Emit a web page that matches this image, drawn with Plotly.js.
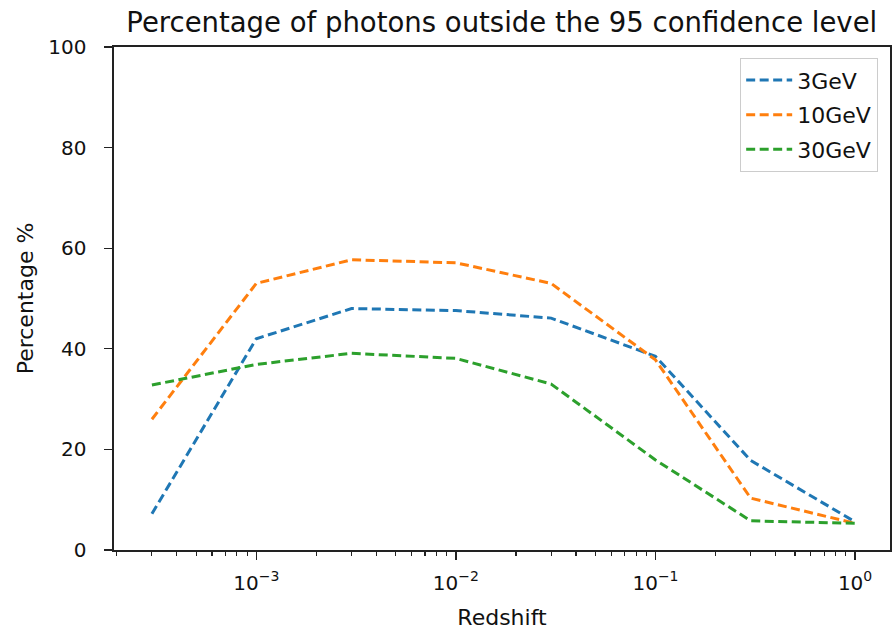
<!DOCTYPE html>
<html>
<head>
<meta charset="utf-8">
<script src="https://cdn.plot.ly/plotly-3.0.1.min.js"></script>
<style>html,body{margin:0;padding:0;background:#fff}#chart{width:892px;height:631px}</style>
</head>
<body>
<div id="chart"></div>
<script>
const redshift = [3e-4, 1e-3, 3e-3, 1e-2, 3e-2, 1e-1, 3e-1, 1];
const pct3GeV  = [7.2, 42.0, 48.0, 47.6, 46.1, 38.5, 17.8, 5.6];
const pct10GeV = [26.0, 53.0, 57.7, 57.1, 53.0, 37.8, 10.3, 5.3];
const pct30GeV = [32.8, 36.9, 39.1, 38.1, 33.0, 17.9, 5.8, 5.3];
const seriesNames = ["3GeV", "10GeV", "30GeV"];
const colors = ["#1f77b4", "#ff7f0e", "#2ca02c"];
const xTickVals = [1e-3, 1e-2, 1e-1, 1];
const xTickText = ["10<sup>−3</sup>", "10<sup>−2</sup>", "10<sup>−1</sup>", "10<sup>0</sup>"];
const yTickVals = [0, 20, 40, 60, 80, 100];

// minor log ticks: 2..9 within each decade
const minorVals = [];
for (let e = -4; e <= 0; e++) {
  for (let m = 2; m <= 9; m++) minorVals.push(m * Math.pow(10, e));
}

const ys = [pct3GeV, pct10GeV, pct30GeV];
const traces = ys.map((y, i) => ({
  x: redshift, y: y, name: seriesNames[i], legendgroup: "g" + i,
  type: "scatter", mode: "lines",
  line: {color: colors[i], width: 3, dash: "9px,4.5px"}
}));

const font = {family: "DejaVu Sans", color: "#111"};
const f = s => Object.assign({size: s}, font);
const layout = {
  width: 892, height: 631,
  margin: {l: 114, r: 2, t: 47, b: 81},
  paper_bgcolor: "#fff", plot_bgcolor: "#fff",
  font: f(20),
  title: {text: "Percentage of photons outside the 95 confidence level", font: f(27.5), x: 0.5625, xanchor: "center", y: 0.980, yanchor: "top"},
  showlegend: true,
  legend: {x: 0.9845, y: 0.978, xanchor: "right", yanchor: "top", bordercolor: "#cccccc", borderwidth: 1.2, bgcolor: "#fff", font: f(22), traceorder: "grouped", tracegroupgap: 3, itemwidth: 46},
  xaxis: {
    type: "log", range: [Math.log10(3e-4) - 0.19, 0.175],
    tickmode: "array", tickvals: xTickVals, ticktext: xTickText,
    ticks: "outside", ticklen: 8, tickwidth: 1.4, tickcolor: "#222",
    ticklabelstandoff: 6,
    minor: {tickmode: "array", tickvals: minorVals, ticks: "outside", ticklen: 4.5, tickcolor: "#222", tickwidth: 1.1, showgrid: false},
    showgrid: false, zeroline: false,
    showline: true, linecolor: "#222", linewidth: 1.6, mirror: true,
    title: {text: "Redshift", font: f(22), standoff: 16},
    tickfont: f(20)
  },
  yaxis: {
    range: [0, 100], tickmode: "array", tickvals: yTickVals,
    ticks: "outside", ticklen: 8, tickwidth: 1.4, tickcolor: "#222",
    ticklabelstandoff: 14,
    showgrid: false, zeroline: false,
    showline: true, linecolor: "#222", linewidth: 1.6, mirror: true,
    title: {text: "Percentage %", font: f(22), standoff: 8},
    tickfont: f(20)
  }
};
Plotly.newPlot("chart", traces, layout, {displayModeBar: false, staticPlot: true});
</script>
</body>
</html>
